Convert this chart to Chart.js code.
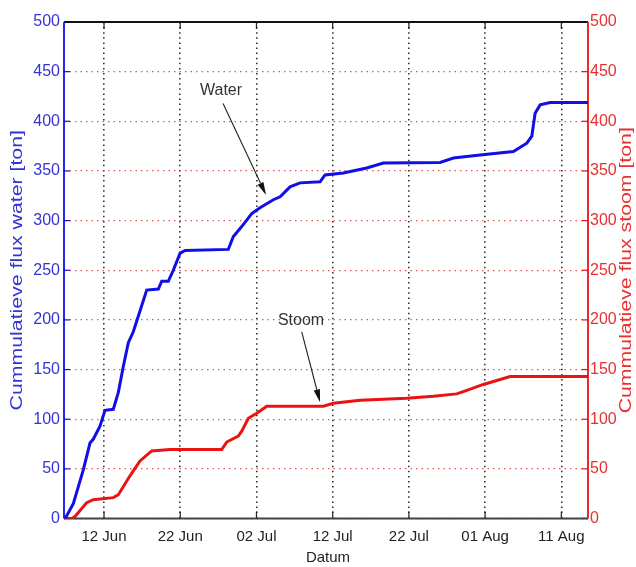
<!DOCTYPE html>
<html>
<head>
<meta charset="utf-8">
<script src="https://cdn.jsdelivr.net/npm/chart.js@4/dist/chart.umd.min.js"></script>
<style>
  html, body { margin: 0; padding: 0; background: #ffffff; }
  #wrap { width: 636px; height: 567px; }
</style>
</head>
<body>
<div id="wrap"><canvas id="c" width="636" height="567"></canvas></div>
<script>
// Day numbers counted from 1 June (1 Jul = 31, 1 Aug = 62)
const waterDays = [6.75, 6.9, 7.97, 9.28, 10.16, 10.6, 11.47, 12.13, 13.22, 13.88, 14.53, 15.19, 15.84, 16.72, 17.6, 19.13, 19.57, 20.44, 21.09, 21.97, 22.63, 28.31, 28.97, 30.07, 31.38, 32.47, 34.22, 35.1, 36.41, 37.72, 40.35, 41.0, 43.4, 46.47, 48.65, 56.1, 57.84, 61.35, 65.71, 67.47, 68.13, 68.56, 69.22, 70.53, 75.5];
const waterTon  = [0, 0, 15, 49, 76, 80, 93, 109, 110, 127, 153, 177, 188, 209, 230, 231, 239, 239, 250, 267, 270, 271, 284, 294, 307, 313, 321, 324, 334, 338, 339, 346, 348, 353, 358, 358.5, 363, 366, 369.5, 378, 385, 408, 416.5, 419, 419];

const stoomDays = [6.75, 7.8, 8.19, 9.73, 10.6, 13.22, 13.88, 15.41, 16.72, 18.26, 20.66, 27.44, 28.1, 29.62, 30.07, 30.94, 32.04, 33.35, 40.78, 42.09, 45.6, 51.72, 55.2, 58.28, 59.6, 61.77, 65.28, 75.5];
const stoomTon  = [0, 0, 2, 16, 19, 21, 24, 43, 58, 68, 69.5, 69.5, 77, 83, 88, 101, 106, 113, 113, 116, 119, 121, 123, 125.5, 129, 135, 143, 143];

const xTickDays   = [12, 22, 32, 42, 52, 62, 72];
const xTickLabels = ['12 Jun', '22 Jun', '02 Jul', '12 Jul', '22 Jul', '01 Aug', '11 Aug'];
const yTicks      = [0, 50, 100, 150, 200, 250, 300, 350, 400, 450, 500];

// Callouts, in data units: [label, labelDay, labelTon, fromDay, fromTon, toDay, toTon]
const callouts = [
  ['Water', 27.35, 430.5, 27.62, 418, 33.26, 325.7],
  ['Stoom', 37.85, 199, 37.94, 188, 40.35, 117]
];

const FONT = '"Liberation Sans", Arial, sans-serif';
const BLUE = '#1010e6';
const RED = '#ea1212';
const BLUE_TXT = '#3434d4';
const RED_TXT = '#e83030';

const toPts = (xs, ys) => xs.map((x, i) => ({ x: x, y: ys[i] }));

const framePlugin = {
  id: 'frame',
  beforeDatasetsDraw(chart) {
    const { ctx, chartArea: a, scales } = chart;
    ctx.save();
    ctx.setLineDash([]);
    // inward tick marks
    ctx.lineWidth = 1.2;
    yTicks.forEach(v => {
      const py = scales.y.getPixelForValue(v);
      ctx.strokeStyle = BLUE;
      ctx.beginPath(); ctx.moveTo(a.left, py); ctx.lineTo(a.left + 6, py); ctx.stroke();
      const py2 = scales.y2.getPixelForValue(v);
      ctx.strokeStyle = RED;
      ctx.beginPath(); ctx.moveTo(a.right, py2); ctx.lineTo(a.right - 6, py2); ctx.stroke();
    });
    ctx.strokeStyle = '#222';
    xTickDays.forEach(d => {
      const px = scales.x.getPixelForValue(d);
      ctx.beginPath(); ctx.moveTo(px, a.bottom); ctx.lineTo(px, a.bottom - 7); ctx.stroke();
      ctx.beginPath(); ctx.moveTo(px, a.top); ctx.lineTo(px, a.top + 7); ctx.stroke();
    });
    // axes box
    ctx.lineWidth = 1.8;
    ctx.strokeStyle = '#111';
    ctx.beginPath(); ctx.moveTo(a.left, a.top); ctx.lineTo(a.right, a.top); ctx.stroke();
    ctx.strokeStyle = '#444';
    ctx.beginPath(); ctx.moveTo(a.left, a.bottom); ctx.lineTo(a.right, a.bottom); ctx.stroke();
    ctx.strokeStyle = BLUE;
    ctx.beginPath(); ctx.moveTo(a.left, a.top); ctx.lineTo(a.left, a.bottom); ctx.stroke();
    ctx.strokeStyle = RED;
    ctx.beginPath(); ctx.moveTo(a.right, a.top); ctx.lineTo(a.right, a.bottom); ctx.stroke();
    ctx.restore();
  },
  afterDatasetsDraw(chart) {
    const { ctx, chartArea: a, scales } = chart;
    const midY = (a.top + a.bottom) / 2;
    ctx.save();
    // axis titles
    const vTitle = (text, x, color) => {
      ctx.save();
      ctx.translate(x, midY);
      ctx.rotate(-Math.PI / 2);
      ctx.scale(1.33, 1);
      ctx.font = '16px ' + FONT;
      ctx.fillStyle = color;
      ctx.textAlign = 'center';
      ctx.textBaseline = 'middle';
      ctx.fillText(text, 0, 0);
      ctx.restore();
    };
    vTitle('Cummulatieve flux water [ton]', 18, BLUE_TXT);
    vTitle('Cummulatieve flux stoom [ton]', 627, RED_TXT);
    ctx.font = '15px ' + FONT;
    ctx.fillStyle = '#222';
    ctx.textAlign = 'center';
    ctx.textBaseline = 'middle';
    ctx.fillText('Datum', (a.left + a.right) / 2 + 2, 558);

    // callouts with arrows
    callouts.forEach(([label, lx, ly, fx, fy, tx, ty]) => {
      const X = v => scales.x.getPixelForValue(v);
      const Y = v => scales.y.getPixelForValue(v);
      ctx.font = '16px ' + FONT;
      ctx.fillStyle = '#333';
      ctx.textAlign = 'center';
      ctx.textBaseline = 'middle';
      ctx.fillText(label, X(lx), Y(ly));
      const x0 = X(fx), y0 = Y(fy), x1 = X(tx), y1 = Y(ty);
      const ang = Math.atan2(y1 - y0, x1 - x0);
      const head = 13, half = 3.2;
      const bx = x1 - head * Math.cos(ang), by = y1 - head * Math.sin(ang);
      ctx.strokeStyle = '#222';
      ctx.lineWidth = 1.1;
      ctx.beginPath(); ctx.moveTo(x0, y0); ctx.lineTo(bx, by); ctx.stroke();
      ctx.fillStyle = '#111';
      ctx.beginPath();
      ctx.moveTo(x1, y1);
      ctx.lineTo(bx + half * Math.sin(ang), by - half * Math.cos(ang));
      ctx.lineTo(bx - half * Math.sin(ang), by + half * Math.cos(ang));
      ctx.closePath();
      ctx.fill();
    });
    ctx.restore();
  }
};

new Chart(document.getElementById('c'), {
  type: 'line',
  data: {
    datasets: [
      {
        label: 'Water',
        data: toPts(waterDays, waterTon),
        borderColor: BLUE,
        borderWidth: 3,
        pointRadius: 0,
        tension: 0,
        yAxisID: 'y'
      },
      {
        label: 'Stoom',
        data: toPts(stoomDays, stoomTon),
        borderColor: RED,
        borderWidth: 3,
        pointRadius: 0,
        tension: 0,
        yAxisID: 'y2'
      }
    ]
  },
  options: {
    responsive: false,
    animation: false,
    devicePixelRatio: 1,
    layout: { padding: { top: 22, left: 0, right: 0, bottom: 0 } },
    plugins: { legend: { display: false }, tooltip: { enabled: false } },
    scales: {
      x: {
        type: 'linear',
        min: 6.75,
        max: 75.5,
        afterBuildTicks: axis => { axis.ticks = xTickDays.map(v => ({ value: v })); },
        afterFit: s => { s.height = 48.5; },
        ticks: {
          callback: (v, i) => xTickLabels[i],
          color: '#222',
          font: { family: FONT, size: 15 },
          padding: 9,
          maxRotation: 0,
          autoSkip: false
        },
        grid: { color: 'rgba(0,0,0,0.8)', lineWidth: 1.6, drawTicks: false },
        border: { display: false, dash: [1.5, 3.6] }
      },
      y: {
        position: 'left',
        min: 0,
        max: 500,
        afterBuildTicks: axis => { axis.ticks = yTicks.map(v => ({ value: v })); },
        afterFit: s => { s.width = 64; },
        ticks: {
          color: BLUE_TXT,
          font: { family: FONT, size: 16 },
          padding: 4
        },
        grid: { color: 'rgba(225,60,60,0.85)', lineWidth: 1.3, drawTicks: false },
        border: { display: false, dash: [1.5, 4] }
      },
      y2: {
        position: 'right',
        min: 0,
        max: 500,
        afterBuildTicks: axis => { axis.ticks = yTicks.map(v => ({ value: v })); },
        afterFit: s => { s.width = 48; },
        ticks: {
          color: RED_TXT,
          font: { family: FONT, size: 16 },
          padding: 2
        },
        grid: { display: false, drawTicks: false },
        border: { display: false }
      }
    }
  },
  plugins: [framePlugin]
});
</script>
</body>
</html>
